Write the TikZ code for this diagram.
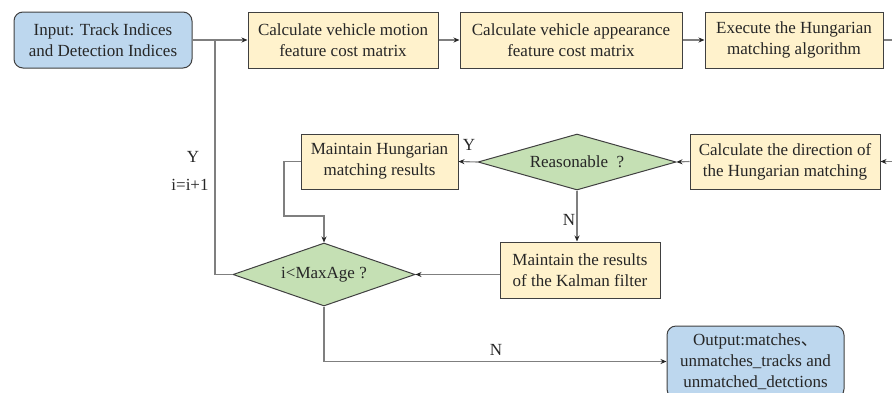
\documentclass[tikz,border=0pt]{standalone}
\usepackage{fontspec}
\setmainfont{Liberation Serif}
\newfontfamily\cjkfont{Noto Sans CJK SC}
\usetikzlibrary{shapes.geometric,arrows.meta}
\definecolor{boxyellow}{HTML}{FFF2CC}
\definecolor{boxblue}{HTML}{BDD7EE}
\definecolor{boxgreen}{HTML}{C5E0B4}
\definecolor{edgegray}{HTML}{404040}
\definecolor{linegray}{HTML}{7F7F7F}
\definecolor{textgray}{HTML}{262626}
\tikzset{
  base/.style={draw=edgegray, line width=1pt, text=textgray, align=center,
    inner sep=0pt, font=\fontsize{17}{21}\selectfont},
  procbox/.style={base, rectangle, fill=boxyellow},
  termbox/.style={base, rectangle, rounded corners=9pt, fill=boxblue},
  decision/.style={base, diamond, aspect=3.2, fill=boxgreen},
  link/.style={draw=linegray, line width=1.1pt},
  flow/.style={link, -{Stealth[length=6pt,width=5pt,color=textgray]}},
  lbl/.style={text=textgray, font=\fontsize{17}{21}\selectfont, inner sep=0pt}
}
\begin{document}
\begin{tikzpicture}[x=1pt,y=-1pt]
\useasboundingbox (0,0) rectangle (892,392);
\clip (0,0) rectangle (892,392);

% top row
\node[termbox, minimum width=178pt, minimum height=56pt] (in) at (103,40)
  {Input: Track Indices\\and Detection Indices};
\node[procbox, minimum width=190pt, minimum height=56pt] (mot) at (343,40)
  {Calculate vehicle motion\\feature cost matrix};
\node[procbox, minimum width=222pt, minimum height=56pt] (app) at (571,40)
  {Calculate vehicle appearance\\feature cost matrix};
\node[procbox, minimum width=178pt, minimum height=56pt] (exe) at (794,40)
  {Execute the Hungarian\\matching algorithm};

% middle row
\node[procbox, minimum width=190pt, minimum height=55pt] (dir) at (785,161.5)
  {Calculate the direction of\\the Hungarian matching};
\node[decision, minimum width=198pt, minimum height=56pt] (rea) at (577,162)
  {Reasonable \ ?};
\node[procbox, minimum width=157pt, minimum height=55pt] (hun) at (379.5,161.5)
  {Maintain Hungarian\\matching results};

% lower rows
\node[procbox, minimum width=160pt, minimum height=56pt] (kal) at (580,270)
  {Maintain the results\\of the Kalman filter};
\node[decision, minimum width=182pt, minimum height=63pt] (age) at (324,274.5)
  {i<MaxAge ?};
\node[termbox, minimum width=177pt, minimum height=72pt] (out) at (755.5,362)
  {Output:matches{\cjkfont 、}\\unmatches\_tracks and\\unmatched\_detctions};

% routing points
\coordinate (j) at (215,40);
\coordinate (loopc) at (215,274.5);
\coordinate (r1) at (905,40);
\coordinate (r2) at (905,161.5);
\coordinate (h1) at (284,161.5);
\coordinate (h2) at (284,216);
\coordinate (h3) at (324,216);
\coordinate (b1) at (324,361.5);

% connectors
\draw[flow] (in.east) -- (mot.west);
\draw[flow] (mot.east) -- (app.west);
\draw[flow] (app.east) -- (exe.west);
\draw[flow] (exe.east) -- (r1) -- (r2) -- (dir.east);
\draw[flow] (dir.west) -- (rea.east);
\draw[flow] (rea.west) -- (hun.east);
\draw[flow] (rea.south) -- (rea.south |- kal.north);
\draw[flow] (hun.west) -- (h1) -- (h2) -- (h3) -- (age.north);
\draw[flow] (age.east -| kal.west) -- (age.east);
\draw[link] (age.west) -- (loopc) -- (j);
\draw[flow] (age.south) -- (b1) -- (b1 -| out.west);

% branch labels
\node[lbl] (ylab1) at (469,145) {Y};
\node[lbl] (nlab1) at (569,220) {N};
\node[lbl] (ylab2) at (193,157) {Y};
\node[lbl] (inc) at (190,185) {i=i+1};
\node[lbl] (nlab2) at (496,350) {N};
\end{tikzpicture}
\end{document}
